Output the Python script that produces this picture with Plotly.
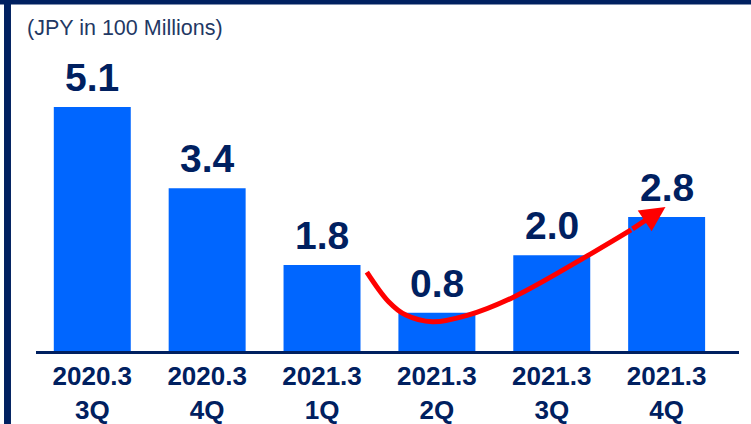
import plotly.graph_objects as go

# Quarterly figures (JPY in 100 millions)
periods = ["2020.3", "2020.3", "2021.3", "2021.3", "2021.3", "2021.3"]
quarters = ["3Q", "4Q", "1Q", "2Q", "3Q", "4Q"]
values = [5.1, 3.4, 1.8, 0.8, 2.0, 2.8]

# Trend arrow path (category index, value units)
trend_x = [2.39, 2.58, 2.73, 2.96, 3.27, 3.67, 4.34, 4.69]
trend_y = [1.65, 1.03, 0.75, 0.61, 0.75, 1.13, 2.03, 2.53]
tip_x, tip_y = 4.99, 3.01

NAVY = "#002060"
BLUE = "#0066FF"
RED = "#FF0000"
FONT = "Arial, Liberation Sans, sans-serif"

xs = list(range(len(values)))
ticktext = [f"<b>{p}</b><br><b>{q}</b>" for p, q in zip(periods, quarters)]

fig = go.Figure()
fig.add_trace(go.Bar(x=xs, y=values, width=0.67, marker_color=BLUE,
                     marker_line_width=0, hoverinfo="skip"))
fig.add_trace(go.Scatter(x=trend_x, y=trend_y, mode="lines",
                         line=dict(color=RED, width=5, shape="spline"),
                         hoverinfo="skip"))

annotations = []
for x, v in zip(xs, values):
    annotations.append(dict(x=x, y=v, xref="x", yref="y", text=f"<b>{v:.1f}</b>",
                            showarrow=False, yanchor="bottom", yshift=6,
                            font=dict(family=FONT, size=39, color=NAVY)))
annotations.append(dict(x=tip_x, y=tip_y, ax=trend_x[-1], ay=trend_y[-1],
                        xref="x", yref="y", axref="x", ayref="y", text="",
                        showarrow=True, arrowhead=2, arrowsize=1.0, arrowwidth=5,
                        arrowcolor=RED, standoff=0))
annotations.append(dict(x=-0.0155, y=1.037, xref="paper", yref="paper",
                        xanchor="left", yanchor="middle", showarrow=False,
                        text="(JPY in 100 Millions)",
                        font=dict(family=FONT, size=21.5, color="#1F3864")))

# Frame: navy band on top and a vertical rule on the left
shapes = [
    dict(type="rect", xref="paper", yref="paper", x0=-0.06, x1=1.03,
         y0=1.1141, y1=1.14, fillcolor=NAVY, line_width=0, layer="above"),
    dict(type="rect", xref="paper", yref="paper", x0=-0.0455, x1=-0.0356,
         y0=-0.25, y1=1.14, fillcolor=NAVY, line_width=0, layer="above"),
]

fig.update_layout(
    width=751, height=424,
    margin=dict(l=36, r=12, t=40, b=73),
    paper_bgcolor="white", plot_bgcolor="white",
    showlegend=False,
    annotations=annotations, shapes=shapes,
    xaxis=dict(range=[-0.49, 5.63], tickmode="array", tickvals=xs, ticktext=ticktext,
               tickfont=dict(family=FONT, size=26, color=NAVY), showgrid=False,
               zeroline=False, showline=True, linecolor=NAVY, linewidth=3,
               ticks="", automargin=False, fixedrange=True),
    yaxis=dict(range=[0, 6.5], visible=False, showgrid=False, zeroline=False,
               automargin=False, fixedrange=True),
)

fig.write_html("out.html")
